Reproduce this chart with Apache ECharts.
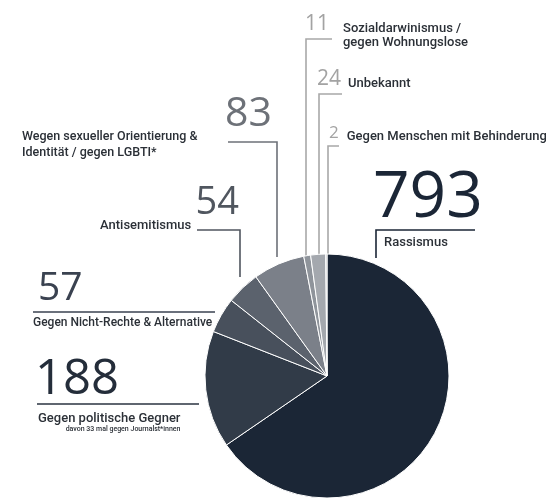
<!DOCTYPE html>
<html>
<head>
<meta charset="utf-8">
<script src="https://cdn.jsdelivr.net/npm/echarts@6/dist/echarts.min.js"></script>
<style>
html,body{margin:0;padding:0;background:#fff;}
#chart{width:546px;height:499px;}
</style>
</head>
<body>
<div id="chart"></div>
<script>
// ---- data ----
const categories = [
  'Rassismus',
  'Gegen politische Gegner',
  'Gegen Nicht-Rechte & Alternative',
  'Antisemitismus',
  'Wegen sexueller Orientierung &\nIdentität / gegen LGBTI*',
  'Sozialdarwinismus /\ngegen Wohnungslose',
  'Unbekannt',
  'Gegen Menschen mit Behinderung'
];
const values = [793, 188, 57, 54, 83, 11, 24, 2];
const notes = ['', 'davon 33 mal gegen Journalst*innen', '', '', '', '', '', ''];

// ---- styles / layout ----
const sliceColors = ['#1b2636', '#313b48', '#48505c', '#5b626d', '#7b8089', '#8f949b', '#a4a8ae', '#b9bcc0'];
const numColors = ['#1b2636', '#242d3a', '#3a4250', '#50565f', '#6d7178', '#a3a3a3', '#a3a3a3', '#a3a3a3'];
const lineColors = ['#1b2636', '#2a3340', '#3a4250', '#50565f', '#6d7178', '#a8a8a8', '#a8a8a8', '#a8a8a8'];
const NUMFONT = '"Open Sans", Lato, sans-serif';
const TXTFONT = 'Roboto, "Noto Sans", sans-serif';
const TXTCOLOR = '#2b3037';

// kind: 'stack' = number above name; 'side' = number with name to the right
const labelCfg = [
  {kind:'stack', x:373, y:162, n:{fontSize:64, lineHeight:73}, t:{fontSize:13, lineHeight:16, padding:[0,0,0,11]},
   pts:[[376,258],[376,230],[475,230]]},
  {kind:'stack', x:35, y:349, n:{fontSize:49, lineHeight:63}, t:{fontSize:13, lineHeight:14, padding:[0,0,0,3]},
   s:{fontSize:7, lineHeight:7, align:'right'},
   pts:[[199,404],[118,404],[37,404]]},
  {kind:'stack', x:33, y:262, n:{fontSize:39, lineHeight:54, padding:[0,0,0,5]}, t:{fontSize:12, lineHeight:14},
   pts:[[215,312],[124,312],[33,312]]},
  {kind:'stack', x:100, y:188, width:139, n:{fontSize:38, lineHeight:31, align:'right'}, t:{fontSize:13, lineHeight:14, align:'left'},
   pts:[[240,277],[240,230],[197,230]]},
  {kind:'stack', x:22, y:100, width:250, n:{fontSize:41, lineHeight:29, align:'right'}, t:{fontSize:12.5, lineHeight:16, align:'left'},
   pts:[[277,257],[277,142],[228,142]]},
  {kind:'side', x:305, y:13.5, n:{fontSize:21, lineHeight:22, padding:[0,0,7.5,0]}, t:{fontSize:13, lineHeight:14, padding:[0,0,0,14]},
   t2pad:38, pts:[[306,256],[306,39],[332,39]]},
  {kind:'side', x:317, y:68.5, n:{fontSize:21, lineHeight:22, padding:[0,0,7.5,0]}, t:{fontSize:13, lineHeight:14, padding:[0,0,0,7]},
   pts:[[319,256],[319,94],[342,94]]},
  {kind:'side', x:329, y:125, n:{fontSize:17, lineHeight:18, padding:[0,0,8,0]}, t:{fontSize:13, lineHeight:14, padding:[0,0,0,8]},
   pts:[[328,256],[328,146],[339,146]]}
];

function buildLabel(i) {
  const c = labelCfg[i];
  const nameLines = categories[i].split('\n');
  const rich = {
    n: Object.assign({fontFamily: NUMFONT, fontWeight: 400, color: numColors[i]}, c.n),
    t: Object.assign({fontFamily: TXTFONT, fontWeight: 500, color: TXTCOLOR}, c.t)
  };
  let text;
  if (c.kind === 'stack') {
    text = '{n|' + values[i] + '}\n' + nameLines.map(l => '{t|' + l + '}').join('\n');
    if (notes[i]) {
      rich.s = Object.assign({fontFamily: TXTFONT, fontWeight: 500, color: TXTCOLOR}, c.s);
      text += '\n{s|' + notes[i] + '}';
    }
  } else {
    rich.n.verticalAlign = 'top';
    rich.t.verticalAlign = 'bottom';
    text = '{n|' + values[i] + '}{t|' + nameLines[0] + '}';
    if (nameLines.length > 1) {
      rich.t2 = {fontFamily: TXTFONT, fontWeight: 500, color: TXTCOLOR, fontSize: c.t.fontSize, lineHeight: 14, padding: [0,0,0,c.t2pad]};
      text += '\n{t2|' + nameLines[1] + '}';
    }
  }
  const lbl = {show: true, formatter: text, rich: rich};
  if (c.width) lbl.width = c.width;
  return lbl;
}

const seriesData = values.map((v, i) => ({
  name: categories[i],
  value: v,
  itemStyle: {color: sliceColors[i]},
  label: buildLabel(i),
  labelLine: {show: true, lineStyle: {color: lineColors[i], width: 1.6}}
}));

const chart = echarts.init(document.getElementById('chart'), null, {renderer: 'canvas'});
chart.setOption({
  backgroundColor: '#ffffff',
  animation: false,
  series: [{
    type: 'pie',
    center: [327, 376],
    radius: 122,
    startAngle: 90,
    clockwise: true,
    avoidLabelOverlap: false,
    itemStyle: {borderColor: '#ffffff', borderWidth: 1},
    label: {show: true, position: 'outside'},
    labelLine: {show: true, smooth: false},
    labelLayout: function (params) {
      const c = labelCfg[params.dataIndex];
      return {x: c.x, y: c.y, align: 'left', verticalAlign: 'top', labelLinePoints: c.pts};
    },
    data: seriesData
  }]
});
</script>
</body>
</html>
